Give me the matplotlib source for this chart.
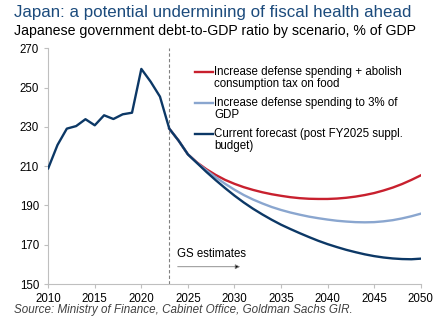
import numpy as np
import matplotlib as mpl
mpl.use('Agg')
import matplotlib.pyplot as plt
from matplotlib.legend_handler import HandlerLine2D

plt.rcParams['font.family'] = ['Liberation Sans', 'DejaVu Sans']

# actual debt-to-GDP, % of GDP
hist_years = list(range(2010, 2024))
hist_values = [208.9, 220.8, 229.1, 230.4, 233.9, 230.8, 235.9, 234.0,
               236.4, 237.2, 259.5, 253.0, 245.4, 229.1]

# GS scenarios, 2023-2050
proj_years = list(range(2023, 2051))
current_forecast = [229.1, 223.0, 216.0, 211.5, 207.0, 202.8, 198.8, 195.0,
                    191.5, 188.3, 185.4, 182.7, 180.2, 178.0, 175.9, 173.9,
                    172.0, 170.3, 168.8, 167.4, 166.2, 165.1, 164.2, 163.5,
                    163.0, 162.7, 162.6, 162.9]
defense_3pct = [229.1, 223.0, 216.0, 211.6, 207.8, 204.3, 201.0, 198.0,
                195.3, 193.0, 191.0, 189.2, 187.7, 186.4, 185.3, 184.3,
                183.5, 182.8, 182.2, 181.8, 181.5, 181.4, 181.5, 181.9,
                182.5, 183.4, 184.5, 185.8]
defense_food_tax = [229.1, 223.0, 216.0, 211.8, 208.4, 205.5, 203.0, 201.0,
                    199.3, 197.9, 196.7, 195.7, 194.9, 194.2, 193.7, 193.4,
                    193.3, 193.3, 193.5, 193.9, 194.5, 195.3, 196.3, 197.6,
                    199.1, 200.9, 203.0, 205.3]

labels = ['Increase defense spending + abolish\nconsumption tax on food',
          'Increase defense spending to 3% of\nGDP',
          'Current forecast (post FY2025 suppl.\nbudget)']
colors = ['#c8202e', '#8aa6cf', '#0c3866']

x_ticks = list(range(2010, 2051, 5))
y_ticks = list(range(150, 271, 20))


class FirstLineHandler(HandlerLine2D):
    # put the legend key next to the first line of a two-line label
    def create_artists(self, legend, orig_handle, xdescent, ydescent,
                       width, height, fontsize, trans):
        artists = super().create_artists(legend, orig_handle, xdescent, ydescent,
                                         width, height, fontsize, trans)
        for a in artists:
            a.set_ydata(np.asarray(a.get_ydata()) + 0.55 * fontsize)
        return artists


fig = plt.figure(figsize=(4.48, 3.22), dpi=100)
ax = fig.add_axes([0.1076, 0.118, 0.8315, 0.732])

ax.axvline(2023, color='#808080', linestyle=(0, (3, 2)), linewidth=0.8, zorder=1)

l1, = ax.plot(proj_years, defense_food_tax, color=colors[0], linewidth=1.7, zorder=2)
l2, = ax.plot(proj_years, defense_3pct, color=colors[1], linewidth=1.7, zorder=3)
l3, = ax.plot(hist_years + proj_years[1:], hist_values + current_forecast[1:],
              color=colors[2], linewidth=1.7, zorder=4)

ax.set_xlim(2010, 2050)
ax.set_ylim(150, 270)
ax.set_xticks(x_ticks)
ax.set_yticks(y_ticks)
ax.tick_params(labelsize=8.3, colors='#bfbfbf', labelcolor='black', length=3, width=0.8)
for side in ['top', 'right']:
    ax.spines[side].set_visible(False)
for side in ['left', 'bottom']:
    ax.spines[side].set_color('#bfbfbf')
    ax.spines[side].set_linewidth(0.8)

leg = ax.legend([l1, l2, l3], labels, loc='upper left', bbox_to_anchor=(0.394, 0.925),
                frameon=False, fontsize=8.3, handlelength=1.55, handletextpad=0.1,
                labelspacing=0.57, borderpad=0, borderaxespad=0,
                handler_map={mpl.lines.Line2D: FirstLineHandler()})
for t in leg.get_texts():
    t.set_linespacing(1.05)

ax.text(2023.8, 165.3, 'GS estimates', fontsize=8.3, va='center', ha='left')
ax.annotate('', xy=(2030.6, 158.8), xytext=(2023.9, 158.8),
            arrowprops=dict(arrowstyle='-|>', color='#7f7f7f', lw=0.6,
                            mutation_scale=7, shrinkA=0, shrinkB=0,
                            fc='black', ec='#7f7f7f'))

fig.text(0.031, 0.962, 'Japan: a potential undermining of fiscal health ahead',
         fontsize=12.2, color='#1c4b7c', va='center', ha='left')
fig.text(0.031, 0.903, 'Japanese government debt-to-GDP ratio by scenario, % of GDP',
         fontsize=10.2, color='black', va='center', ha='left')
fig.text(0.031, 0.037, 'Source: Ministry of Finance, Cabinet Office, Goldman Sachs GIR.',
         fontsize=8.4, color='#404040', style='italic', va='center', ha='left')

fig.savefig('out.png', dpi=100, facecolor='white')
